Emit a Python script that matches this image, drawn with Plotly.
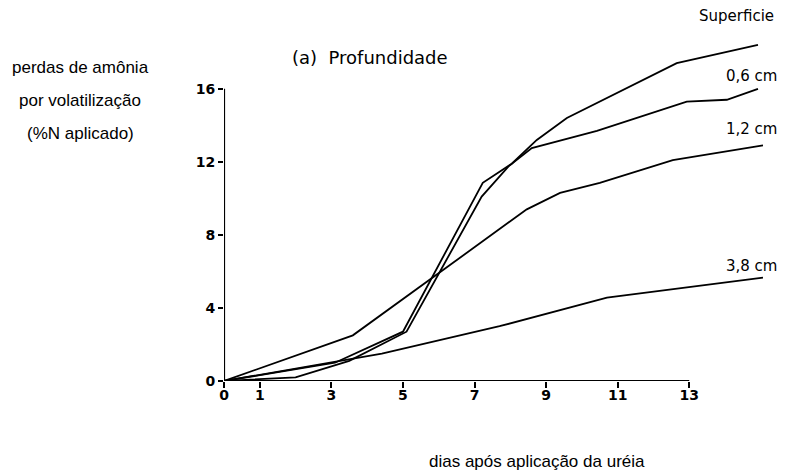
import plotly.graph_objects as go

# ---- data ----
superficie_x = [0, 3.1, 5.0, 7.23, 8.04, 8.74, 9.58, 12.65, 14.92]
superficie_y = [0, 1.0, 2.7, 10.85, 11.9, 13.2, 14.4, 17.4, 18.4]

cm06_x = [0, 2.0, 3.5, 5.1, 7.2, 7.95, 8.6, 10.42, 12.93, 14.05, 14.92]
cm06_y = [0, 0.2, 1.1, 2.7, 10.1, 11.75, 12.75, 13.7, 15.3, 15.4, 16.0]

cm12_x = [0, 3.6, 8.46, 9.39, 10.5, 12.54, 15.06]
cm12_y = [0, 2.5, 9.4, 10.3, 10.85, 12.1, 12.9]

cm38_x = [0, 4.41, 7.7, 10.7, 15.06]
cm38_y = [0, 1.5, 3.0, 4.56, 5.66]

x_ticks = [0, 1, 3, 5, 7, 9, 11, 13]
y_ticks = [0, 4, 8, 12, 16]

series = [
    ("Superficie", superficie_x, superficie_y),
    ("0,6 cm", cm06_x, cm06_y),
    ("1,2 cm", cm12_x, cm12_y),
    ("3,8 cm", cm38_x, cm38_y),
]

OFF = 8  # page body margin
W, H = 792 - OFF, 475 - OFF
PL, PR, PT, PB = 224, 768, 34, 381.5   # plot area in page pixels
L, T = PL - OFF, PT - OFF
R = W - (PR - OFF)
B = H - (PB - OFF)
XMAX, YMAX = 15.2, 19.0


def px(xp):
    return (xp - PL) / (PR - PL)


def py(yp):
    return (PB - yp) / (PB - PT)


fig = go.Figure()
for name, xs, ys in series:
    fig.add_trace(go.Scatter(x=xs, y=ys, mode="lines", name=name,
                             line=dict(color="black", width=1.8),
                             cliponaxis=False, showlegend=False))

# axis lines (limited to the drawn extent as in the original)
fig.add_shape(type="line", x0=0, y0=0, x1=0, y1=16, xref="x", yref="y",
              line=dict(color="black", width=2.2))
fig.add_shape(type="line", x0=0, y0=0, x1=13, y1=0, xref="x", yref="y",
              line=dict(color="black", width=2.2))

tickfont = dict(family="DejaVu Sans", size=14, color="black", weight="bold")
fig.update_xaxes(range=[0, XMAX], showgrid=False, zeroline=False, showline=False,
                 tickvals=x_ticks, ticktext=[str(v) for v in x_ticks],
                 ticks="outside", ticklen=6, tickwidth=1.5, tickcolor="black",
                 tickfont=tickfont, ticklabelstandoff=-5)
fig.update_yaxes(range=[0, YMAX], showgrid=False, zeroline=False, showline=False,
                 tickvals=y_ticks, ticktext=[str(v) for v in y_ticks],
                 ticks="outside", ticklen=5, tickwidth=1.5, tickcolor="black",
                 tickfont=tickfont)


def note(text, xp, yp, font):
    fig.add_annotation(text=text, x=px(xp), y=py(yp), xref="paper", yref="paper",
                       xanchor="center", yanchor="middle", showarrow=False, font=font)


lab_font = dict(family="DejaVu Sans", size=15, color="black")
for text, xp, yp in [("Superficie", 736, 16), ("0,6 cm", 751, 76),
                     ("1,2 cm", 751, 129), ("3,8 cm", 751, 266)]:
    note(text, xp, yp, lab_font)

note("(a)  Profundidade", 370, 58, dict(family="DejaVu Sans", size=18, color="black"))

side_font = dict(family="Liberation Sans", size=17, color="black")
for txt, yp in [("perdas de amônia", 68), ("por volatilização", 101), ("(%N aplicado)", 134)]:
    note(txt, 80, yp, side_font)

note("dias após aplicação da uréia", 537, 462, side_font)

fig.update_layout(width=W, height=H, margin=dict(l=L, r=R, t=T, b=B),
                  plot_bgcolor="white", paper_bgcolor="white")

fig.write_html("out.html")
